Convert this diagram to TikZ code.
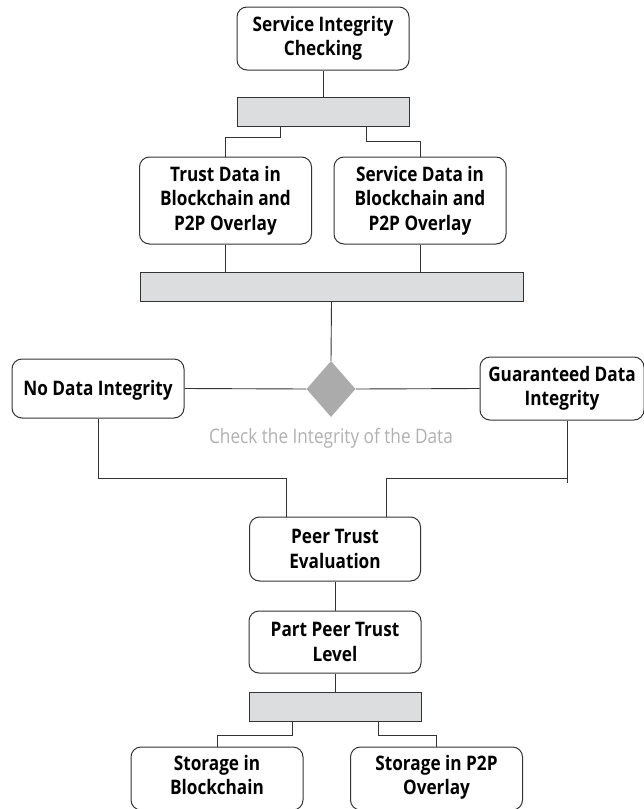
\documentclass[tikz,border=0pt]{standalone}
\usepackage{fontspec}
\setmainfont{Open Sans}[FakeStretch=0.86]
\usetikzlibrary{shapes.geometric}

\begin{document}
\begin{tikzpicture}
            [x=1pt,y=-1pt,
             stepbox/.style={draw=black!80,line width=1pt,rounded corners=10pt,fill=white,align=center,inner sep=0,
                             font=\fontsize{20}{24.5}\selectfont\bfseries,minimum width=172pt,
                             execute at begin node={\rule{0pt}{19.5pt}}},
             bar/.style={draw=black!80,line width=1pt,fill={rgb,255:red,220;green,221;blue,222},inner sep=0,minimum height=29pt},
             link/.style={draw=black!80,line width=0.9pt}]

            \useasboundingbox (0,0) rectangle (643,809);

            \node[stepbox,minimum height=63pt] (check) at (323,38.5) {Service Integrity\\Checking};
            \node[bar,minimum width=172pt] (bar1) at (323,111.5) {};
            \node[stepbox,minimum height=87pt] (trust) at (225.5,200.5) {Trust Data in\\Blockchain and\\P2P Overlay};
            \node[stepbox,minimum height=87pt] (service) at (420,200.5) {Service Data in\\Blockchain and\\P2P Overlay};
            \node[bar,minimum width=383pt] (bar2) at (331.5,286.5) {};
            \node[diamond,fill={rgb,255:red,171;green,171;blue,171},inner sep=0,minimum width=49pt,minimum height=56pt] (decide) at (331,389) {};
            \node[text={rgb,255:red,176;green,176;blue,176},font=\fontsize{20}{24}\selectfont] (decidelabel) at (331,438) {Check the Integrity of the Data};
            \node[stepbox,minimum height=59pt] (nodata) at (98,388.5) {No Data Integrity};
            \node[stepbox,minimum height=63pt,minimum width=164pt] (guaranteed) at (562,388.5) {Guaranteed Data\\Integrity};
            \node[stepbox,minimum height=64pt,minimum width=171pt] (peer) at (335,549) {Peer Trust\\Evaluation};
            \node[stepbox,minimum height=62pt] (part) at (335,642) {Part Peer Trust\\Level};
            \node[bar,minimum width=172pt] (bar3) at (335,706.5) {};
            \node[stepbox,minimum height=63pt] (chain) at (217,778.5) {Storage in\\Blockchain\strut};
            \node[stepbox,minimum height=63pt] (overlay) at (436.5,778.5) {Storage in P2P\\Overlay\strut};

            \draw[link] (check.south) -- (bar1.north);
            \draw[link] ([xshift=-43pt]bar1.south) -- ++(0,11) -| (trust.north);
            \draw[link] ([xshift=43pt]bar1.south) -- ++(0,15) -| (service.north);
            \draw[link] (trust.south) -- (trust.south |- bar2.north);
            \draw[link] (service.south) -- (service.south |- bar2.north);
            \draw[link] (bar2.south) -- (decide.north);
            \draw[link] (nodata.east) -- (decide.west);
            \draw[link] (decide.east) -- (guaranteed.west);
            \draw[link] (nodata.south) -- ++(0,60) -| ([xshift=-49pt]peer.north);
            \draw[link] ([xshift=5pt]guaranteed.south) -- ++(0,62);
            \draw[link] ([xshift=5pt,yshift=-58pt]guaranteed.south) -| ([xshift=51pt]peer.north);
            \draw[link] (peer.south) -- (part.north);
            \draw[link] (part.south) -- (bar3.north);
            \draw[link] ([xshift=-43pt]bar3.south) -- ++(0,14) -| (chain.north);
            \draw[link] ([xshift=43pt]bar3.south) -- ++(0,14) -| (overlay.north);
          \end{tikzpicture}
\end{document}
